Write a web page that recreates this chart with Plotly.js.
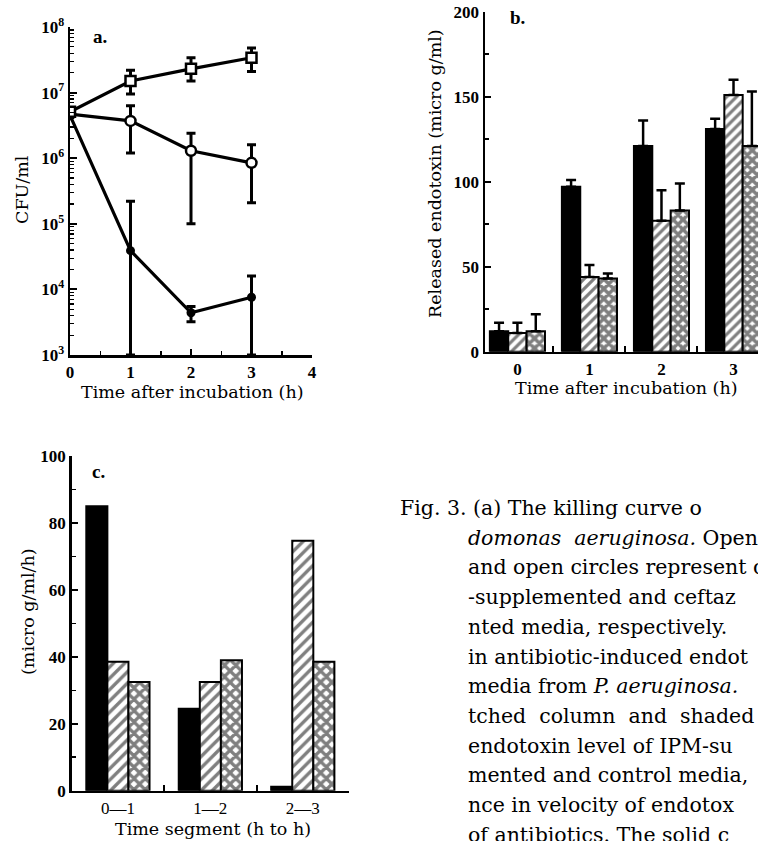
<!DOCTYPE html>
<html><head><meta charset="utf-8">
<script src="https://cdn.plot.ly/plotly-3.0.1.min.js"></script>
<style>body{margin:0;background:#fff}</style>
</head><body><div id="chart" style="width:758px;height:841px"></div>
<script>
// ---------- Panel a: killing curve (CFU/ml) ----------
const hoursA = [0, 1, 2, 3];
const cfuControl = [5.1e6, 1.5e7, 2.3e7, 3.4e7];
const cfuControlHigh = [5.1e6, 2.2e7, 3.4e7, 4.8e7];
const cfuControlLow = [5.1e6, 9.5e6, 1.5e7, 2.1e7];
const cfuCAZ = [4.7e6, 3.7e6, 1.3e6, 8.5e5];
const cfuCAZHigh = [4.7e6, 6.3e6, 2.4e6, 1.6e6];
const cfuCAZLow = [4.7e6, 1.2e6, 1.0e5, 2.1e5];
const cfuIPM = [4.5e6, 3.9e4, 4.4e3, 7.6e3];
const cfuIPMHigh = [4.5e6, 2.2e5, 5.5e3, 1.6e4];
const cfuIPMLow = [4.5e6, 1.0e3, 3.2e3, 1.0e3];
const logTickVals = [1e3, 1e4, 1e5, 1e6, 1e7, 1e8];
const logTickText = ['10<sup>3</sup>', '10<sup>4</sup>', '10<sup>5</sup>', '10<sup>6</sup>', '10<sup>7</sup>', '10<sup>8</sup>'];
const hourTicksA = [0, 1, 2, 3, 4];

// ---------- Panel b: released endotoxin (micro g/ml) ----------
const hoursB = [0, 1, 2, 3];
const hourLabelsB = ['0', '1', '2', '3'];
const endoIPM = [12, 97, 121, 131];
const endoIPMHigh = [17, 101, 136, 137];
const endoCAZ = [11, 44, 77, 151];
const endoCAZHigh = [17, 51, 95, 160];
const endoControl = [12, 43, 83, 121];
const endoControlHigh = [22, 46, 99, 153];

// ---------- Panel c: velocity of endotoxin release (micro g/ml/h) ----------
const segments = ['0\u20141', '1\u20142', '2\u20143'];
const velIPM = [85, 24.5, 1.2];
const velCAZ = [38.5, 32.5, 74.7];
const velControl = [32.5, 39, 38.5];

// ---------- Caption ----------
const captionLines = [
  'Fig.\u00a03.\u00a0(a) The killing curve o',
  '<i>domonas\u00a0\u00a0aeruginosa.</i> Open',
  'and open circles represent c',
  '-supplemented and ceftaz',
  'nted media, respectively.',
  'in antibiotic-induced endot',
  'media from <i>P. aeruginosa.</i>',
  'tched\u00a0\u00a0column\u00a0\u00a0and\u00a0\u00a0shaded',
  'endotoxin level of IPM-su',
  'mented and control media,',
  'nce in velocity of endotox',
  'of antibiotics. The solid c'
];

const W = 758, H = 841;
const px = v => v / W;
const py = v => 1 - v / H;
const SERIF = 'Liberation Serif, Times New Roman, serif';
const TSERIF = 'DejaVu Serif, serif';
const BLK = '#000';

const diff = (a, b) => a.map((v, i) => v - b[i]);
const zeros = n => new Array(n).fill(0);
const idxC = segments.map((_, i) => i);

const traces = [];
// Panel a traces
function lineTrace(y, hi, lo, marker, name) {
  return {
    type: 'scatter', mode: 'lines+markers', x: hoursA, y: y, name: name,
    xaxis: 'x', yaxis: 'y',
    line: {color: BLK, width: 3.2},
    marker: marker,
    error_y: {type: 'data', symmetric: false, array: diff(hi, y), arrayminus: diff(y, lo),
              color: BLK, thickness: 3, width: 4.5}
  };
}
traces.push(lineTrace(cfuIPM, cfuIPMHigh, cfuIPMLow, {symbol: 'circle', size: 9, color: BLK}, 'IPM'));
traces.push(lineTrace(cfuCAZ, cfuCAZHigh, cfuCAZLow, {symbol: 'circle', size: 10, color: '#fff', line: {color: BLK, width: 2.5}}, 'Ceftazidime'));
traces.push(lineTrace(cfuControl, cfuControlHigh, cfuControlLow, {symbol: 'square', size: 10, color: '#fff', line: {color: BLK, width: 2.5}}, 'Control'));

// Panel b traces
const bW = 0.255;
const hatch = {shape: '/', size: 7, solidity: 0.45, fgcolor: BLK, bgcolor: '#fff', fillmode: 'overlay'};
const cross = {shape: 'x', size: 7, solidity: 0.75, fgcolor: BLK, bgcolor: '#fff', fillmode: 'overlay'};
function barB(y, hi, offset, marker, name) {
  return {
    type: 'bar', x: hoursB, y: y, name: name, xaxis: 'x2', yaxis: 'y2',
    width: bW, offset: offset, marker: marker,
    error_y: {type: 'data', symmetric: false, array: diff(hi, y), arrayminus: zeros(y.length),
              color: BLK, thickness: 2.5, width: 5}
  };
}
traces.push(barB(endoIPM, endoIPMHigh, -1.5 * bW, {color: BLK, line: {color: BLK, width: 2}}, 'IPM'));
traces.push(barB(endoCAZ, endoCAZHigh, -0.5 * bW, {color: '#fff', pattern: hatch, line: {color: BLK, width: 2}}, 'Ceftazidime'));
traces.push(barB(endoControl, endoControlHigh, 0.5 * bW, {color: '#fff', pattern: cross, line: {color: BLK, width: 2}}, 'Control'));

// Panel c traces
const cW = 0.228;
const hatchC = {shape: '/', size: 8, solidity: 0.42, fgcolor: BLK, bgcolor: '#fff', fillmode: 'overlay'};
const crossC = {shape: 'x', size: 8, solidity: 0.65, fgcolor: BLK, bgcolor: '#fff', fillmode: 'overlay'};
function barC(y, offset, marker, name) {
  return {type: 'bar', x: idxC, y: y, name: name, xaxis: 'x3', yaxis: 'y3',
          width: cW, offset: offset, marker: marker};
}
traces.push(barC(velIPM, -1.5 * cW, {color: BLK, line: {color: BLK, width: 2}}, 'IPM'));
traces.push(barC(velCAZ, -0.5 * cW, {color: '#fff', pattern: hatchC, line: {color: BLK, width: 2}}, 'Ceftazidime'));
traces.push(barC(velControl, 0.5 * cW, {color: '#fff', pattern: crossC, line: {color: BLK, width: 2}}, 'Control'));

const tickFont = {family: SERIF, size: 17, color: BLK, weight: 'bold'};
const axBase = {showline: true, linecolor: BLK, linewidth: 2.5, showgrid: false, zeroline: false,
                ticks: 'inside', tickcolor: BLK, tickwidth: 2, ticklen: 6, tickfont: tickFont, fixedrange: true};

const annotations = [];
function ann(text, x, y, opts) {
  annotations.push(Object.assign({text: text, x: px(x), y: py(y), xref: 'paper', yref: 'paper',
    showarrow: false, xanchor: 'center', yanchor: 'middle',
    font: {family: TSERIF, size: 17.5, color: BLK}}, opts || {}));
}
// panel labels
ann('a.', 100, 36, {font: {family: SERIF, size: 19, color: BLK, weight: 'bold'}});
ann('b.', 517, 17, {font: {family: SERIF, size: 19, color: BLK, weight: 'bold'}});
ann('c.', 98, 471, {font: {family: SERIF, size: 19, color: BLK, weight: 'bold'}});
// axis titles
ann('Time after incubation (h)', 192, 392);
ann('CFU/ml', 22, 190, {textangle: -90});
ann('Time after incubation (h)', 626, 388);
ann('Released endotoxin (micro g/ml)', 435, 174, {textangle: -90});
ann('Time segment (h to h)', 213, 829);
ann('(micro g/ml/h)', 28, 612, {textangle: -90});
// caption
captionLines.forEach((t, i) => {
  ann(t, i === 0 ? 398 : 466, 508 + 29.7 * i, {xanchor: 'left', font: {family: TSERIF, size: 20.5, color: BLK}});
});

const layout = {
  width: W, height: H, margin: {l: 0, r: 0, t: 0, b: 0},
  paper_bgcolor: '#fff', plot_bgcolor: 'rgba(0,0,0,0)',
  showlegend: false, barmode: 'overlay',
  xaxis: Object.assign({}, axBase, {domain: [px(70), px(312)], anchor: 'y', range: [0, 4],
    tickvals: hourTicksA, ticklen: 6,
    minor: {ticks: 'inside', tickvals: [0.5, 1.5, 2.5, 3.5], ticklen: 4, tickcolor: BLK, tickwidth: 1.5}}),
  yaxis: Object.assign({}, axBase, {domain: [py(355), py(27)], anchor: 'x', type: 'log', range: [3, 8],
    tickvals: logTickVals, ticktext: logTickText, ticklen: 7,
    tickfont: {family: SERIF, size: 17, color: BLK, weight: 'bold'},
    minor: {ticks: 'inside', dtick: 'D1', ticklen: 4, tickcolor: BLK, tickwidth: 1.2}}),
  xaxis2: Object.assign({}, axBase, {domain: [px(485), 1], anchor: 'y2', range: [-0.45, 3.34],
    tickvals: hoursB, ticktext: hourLabelsB, ticklen: 0,
    minor: {ticks: 'inside', tickvals: [0.5, 1.5, 2.5], ticklen: 6, tickcolor: BLK, tickwidth: 2}}),
  yaxis2: Object.assign({}, axBase, {domain: [py(351.7), py(11.7)], anchor: 'x2', range: [0, 200],
    tickvals: [0, 50, 100, 150, 200],
    minor: {ticks: 'inside', dtick: 25, ticklen: 4, tickcolor: BLK, tickwidth: 1.5}}),
  xaxis3: Object.assign({}, axBase, {domain: [px(71.7), px(349)], anchor: 'y3', range: [-0.5, 2.5],
    tickvals: idxC, ticktext: segments, ticklen: 0,
    tickfont: {family: SERIF, size: 17, color: BLK},
    minor: {ticks: 'inside', tickvals: [0.5, 1.5, 2.5], ticklen: 6, tickcolor: BLK, tickwidth: 2}}),
  yaxis3: Object.assign({}, axBase, {domain: [py(790.7), py(456)], anchor: 'x3', range: [0, 100],
    tickvals: [0, 20, 40, 60, 80, 100],
    minor: {ticks: 'inside', dtick: 10, ticklen: 4, tickcolor: BLK, tickwidth: 1.5}}),
  annotations: annotations
};

Plotly.newPlot('chart', traces, layout, {displayModeBar: false, staticPlot: true});
</script></body></html>
